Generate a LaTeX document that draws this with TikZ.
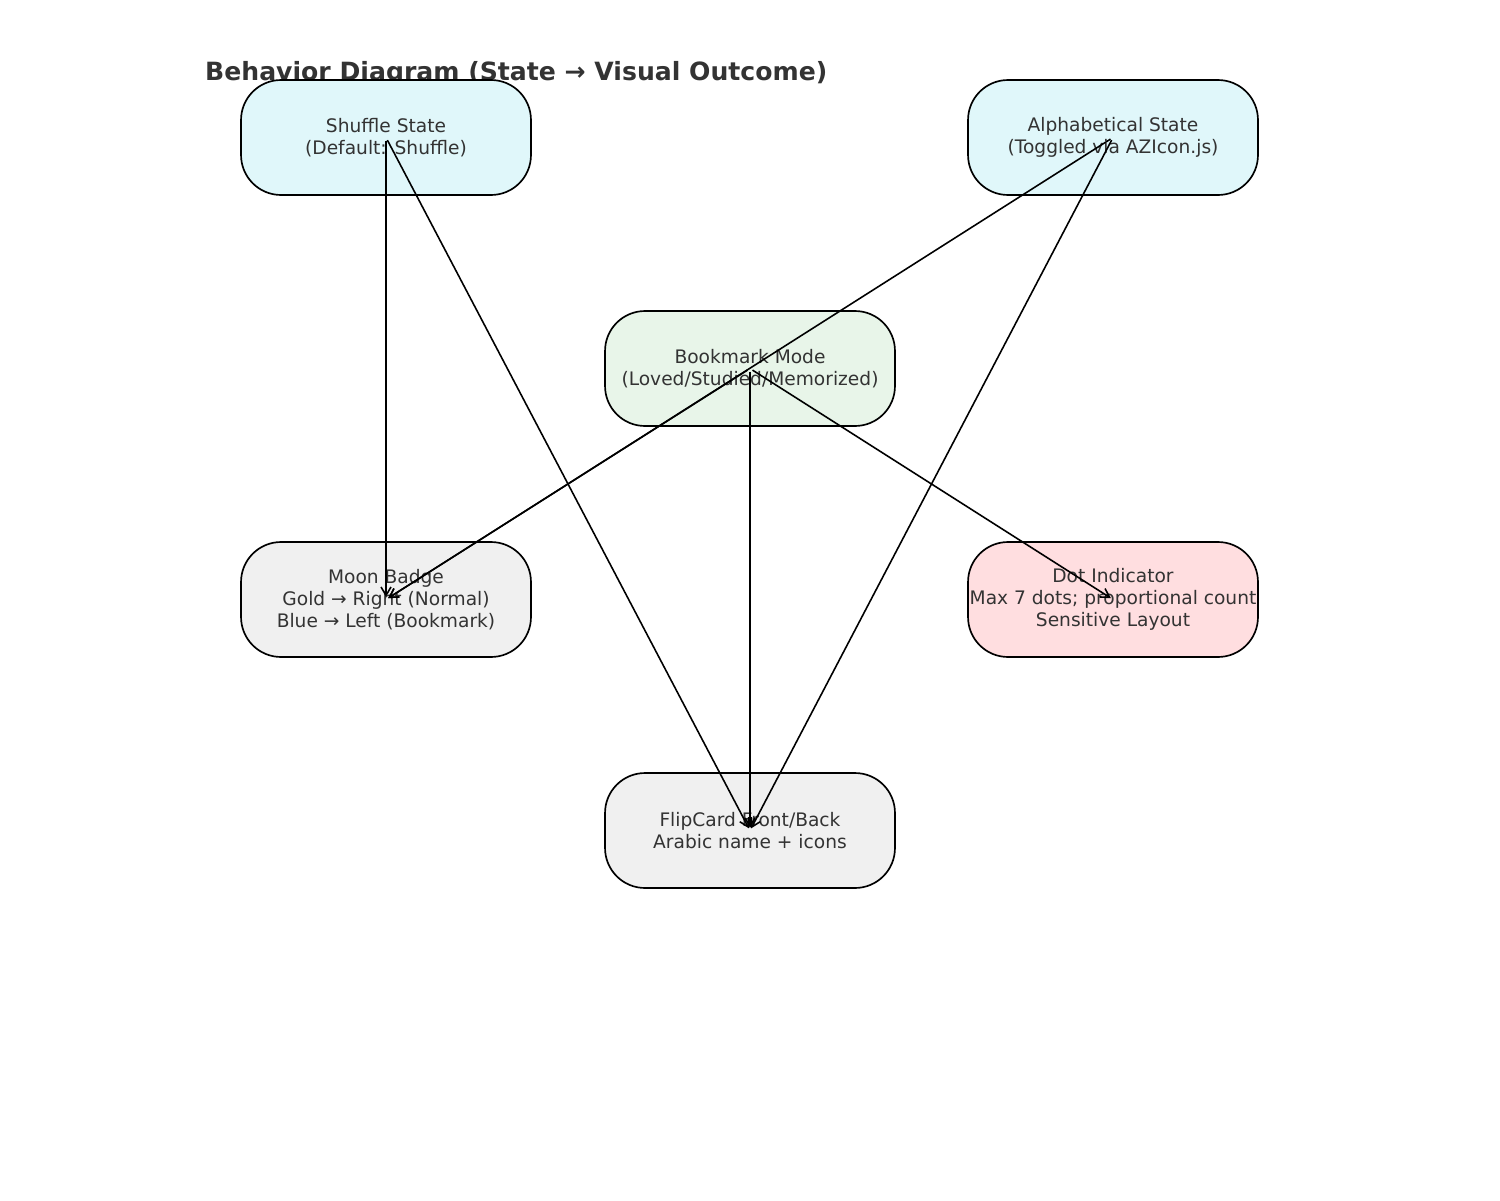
\documentclass[tikz,border=0pt]{standalone}
\usepackage{fontspec}
\setmainfont{DejaVu Sans}
\usetikzlibrary{arrows.meta}

\definecolor{txt}{HTML}{333333}
\definecolor{statefill}{HTML}{E0F7FA}
\definecolor{modefill}{HTML}{E8F5E9}
\definecolor{viewfill}{HTML}{F0F0F0}
\definecolor{dotfill}{HTML}{FFDEE0}

\tikzset{
  box/.style={draw=black, line width=0.95pt, rounded corners=0.8cm,
    minimum width=5.8cm, minimum height=2.3cm, inner sep=0pt,
    align=center, text=txt, font=\fontsize{10.6}{12.5}\selectfont},
  link/.style={-{Straight Barb[length=0.17cm,width=0.2cm]}, line width=0.9pt,
    shorten <=0.06cm, shorten >=0.05cm},
}

\begin{document}
\begin{tikzpicture}[x=0.02cm, y=-0.02cm]
  \useasboundingbox (0,0) rectangle (1500,1200);
  \node[anchor=base west, text=txt, font=\bfseries\fontsize{14.3}{17}\selectfont]
    (title) at (199,80) {Behavior Diagram (State → Visual Outcome)};

  \node[box, fill=statefill] (shuffle) at (386,137.5) {Shuffle State\\(Default: Shuffle)};
  \node[box, fill=statefill] (alpha) at (1113,137.5) {Alphabetical State\\(Toggled via AZIcon.js)};
  \node[box, fill=modefill] (bookmark) at (750,368.5) {Bookmark Mode\\(Loved/Studied/Memorized)};
  \node[box, fill=viewfill] (moon) at (386,599.5) {Moon Badge\\Gold → Right (Normal)\\Blue → Left (Bookmark)};
  \node[box, fill=dotfill] (dots) at (1113,599.5) {Dot Indicator\\Max 7 dots; proportional count\\Sensitive Layout};
  \node[box, fill=viewfill] (flip) at (750,830.5) {FlipCard Front/Back\\Arabic name + icons};

  \draw[link] (shuffle.center) -- (moon.center);
  \draw[link] (shuffle.center) -- (flip.center);
  \draw[link] (alpha.center) -- (moon.center);
  \draw[link] (alpha.center) -- (flip.center);
  \draw[link] (bookmark.center) -- (moon.center);
  \draw[link] (bookmark.center) -- (dots.center);
  \draw[link] (bookmark.center) -- (flip.center);
\end{tikzpicture}
\end{document}
